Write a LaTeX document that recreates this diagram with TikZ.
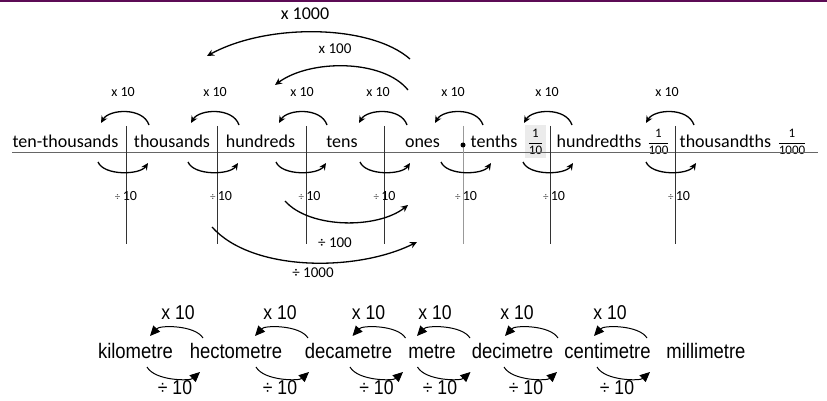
\documentclass[tikz,border=0pt]{standalone}
\usepackage{fontspec}
\setmainfont{Carlito}
\newfontfamily\unitfont[FakeStretch=0.88]{Liberation Sans}
\definecolor{BarPurple}{HTML}{5C0B55}
\usetikzlibrary{arrows.meta}

\newcommand{\placefrac}[2]{$\displaystyle\frac{\mbox{#1}}{\mbox{#2}}$}

\begin{document}
\begin{tikzpicture}[x=1pt, y=-1pt, >=Stealth,
  place/.style={inner sep=0pt, anchor=base, font=\fontsize{18}{18}\selectfont},
  oplabel/.style={inner sep=0pt, font=\fontsize{14}{14}\selectfont},
  fracnode/.style={inner sep=0pt, anchor=base, font=\fontsize{13}{13}\selectfont},
  divider/.style={line width=0.7pt, black!80},
  hop/.style={line width=1.3pt, -{Stealth[length=7pt, width=6.5pt]}},
  unit/.style={inner sep=0pt, anchor=base, font=\unitfont\fontsize{21}{21}\selectfont},
  unitlabel/.style={inner sep=0pt, font=\unitfont\fontsize{20}{20}\selectfont},
  unithop/.style={line width=1pt, -{Triangle[length=10pt, width=9pt]}}]
  \useasboundingbox (0,0) rectangle (827,401);
  \fill[BarPurple] (0,0) rectangle (827,2.5);
  % Place value headings
  \fill[black!8] (525,125) rectangle (546,158);
  \node[place] (tth) at (65.5,147) {ten-thousands};
  \node[place] (th) at (172,147) {thousands};
  \node[place] (hu) at (260.5,147) {hundreds};
  \node[place] (te) at (342,147) {tens};
  \node[place] (on) at (422.5,147) {ones};
  \node[place] (tn) at (494,147) {tenths};
  \node[place] (hd) at (599,147) {hundredths};
  \node[place] (tt) at (725.5,147) {thousandths};
  \node[fracnode] (f10) at (535.5,146) {\placefrac{1}{10}};
  \node[fracnode] (f100) at (658.5,146) {\placefrac{1}{100}};
  \node[fracnode] (f1000) at (792,146) {\placefrac{1}{1000}};
  % Column rule and dividers
  \draw[line width=0.8pt, black!60] (12,152) -- (818,152);
  \foreach \x in {126.7,217.7,306.7,384.3,550.7,675.3}
    \draw[divider] (\x,126) -- (\x,244);
  \draw[line width=0.8pt, black!40] (463.3,126) -- (463.3,244);
  \fill (463,145) circle[radius=2.5pt];
  % x 10 and ÷ 10 at each divider
  \foreach \i/\ta/\ba/\tl/\bl in {1/125/124/123/126, 2/215/214/215/221,
      3/303/302/302/309.5, 4/383/386/378/384.5, 5/459/467/453/466,
      6/548/549/547/554, 7/670/672/667/679} {
    \coordinate (ts\i) at (\ta+24,125);
    \coordinate (te\i) at (\ta-24,123);
    \coordinate (bs\i) at (\ba-26,162);
    \coordinate (be\i) at (\ba+24,163);
    \draw[hop] (ts\i) .. controls +(-6,-18) and +(8,-14) .. (te\i);
    \draw[hop] (bs\i) .. controls +(6,14) and +(-8,12) .. (be\i);
    \node[oplabel] (mul\i) at (\tl,92) {x 10};
    \node[oplabel] (div\i) at (\bl,196) {{\color{black!70}\fontsize{11}{11}\selectfont ÷}\,10};
  }
  % Longer jumps
  \coordinate (hs) at (408,90);
  \coordinate (he) at (275,85);
  \draw[hop] (hs) .. controls +(-25,-31) and +(35,-26) .. (he);
  \node[oplabel, font=\fontsize{15}{15}\selectfont] (mul100) at (335,49) {x 100};
  \coordinate (ks) at (410,59);
  \coordinate (ke) at (207,56);
  \draw[hop] (ks) .. controls +(-40,-35) and +(60,-33) .. (ke);
  \node[oplabel, font=\fontsize{18}{18}\selectfont] (mul1000) at (305,14) {x 1000};
  \coordinate (ds) at (285,201);
  \coordinate (de) at (408,205);
  \draw[hop] (ds) .. controls +(25,28) and +(-30,24) .. (de);
  \node[oplabel, font=\fontsize{15}{15}\selectfont] (div100) at (335,243) {÷ 100};
  \coordinate (ms) at (212,227);
  \coordinate (me) at (417,242);
  \draw[hop] (ms) .. controls +(40,45) and +(-60,30) .. (me);
  \node[oplabel, font=\fontsize{15}{15}\selectfont] (div1000) at (313,273) {÷ 1000};
  % Metric units
  \node[unit] (km) at (135.5,358) {kilometre};
  \node[unit] (hm) at (236,358) {hectometre};
  \node[unit] (dam) at (348.5,358) {decametre};
  \node[unit] (m) at (432,358) {metre};
  \node[unit] (dm) at (512.5,358) {decimetre};
  \node[unit] (cm) at (607.5,358) {centimetre};
  \node[unit] (mm) at (706,358) {millimetre};
  \foreach \i/\u/\d/\ml/\dl in {1/176.5/173.5/178/175, 2/281.5/282.5/280/280,
      3/379/376.5/368.5/376.5, 4/443.5/444/435/440, 5/531.5/530.5/517/526,
      6/620.5/623.5/610/617} {
    \coordinate (us\i) at (\u+26.5,338);
    \coordinate (ue\i) at (\u-26.5,336);
    \coordinate (ls\i) at (\d-26.5,367);
    \coordinate (le\i) at (\d+26.5,372);
    \draw[unithop] (us\i) .. controls +(-8,-13) and +(10,-11) .. (ue\i);
    \draw[unithop] (ls\i) .. controls +(8,14) and +(-10,9) .. (le\i);
    \node[unitlabel] (um\i) at (\ml,313) {x 10};
    \node[unitlabel] (ud\i) at (\dl,388) {÷ 10};
  }
\end{tikzpicture}
\end{document}
